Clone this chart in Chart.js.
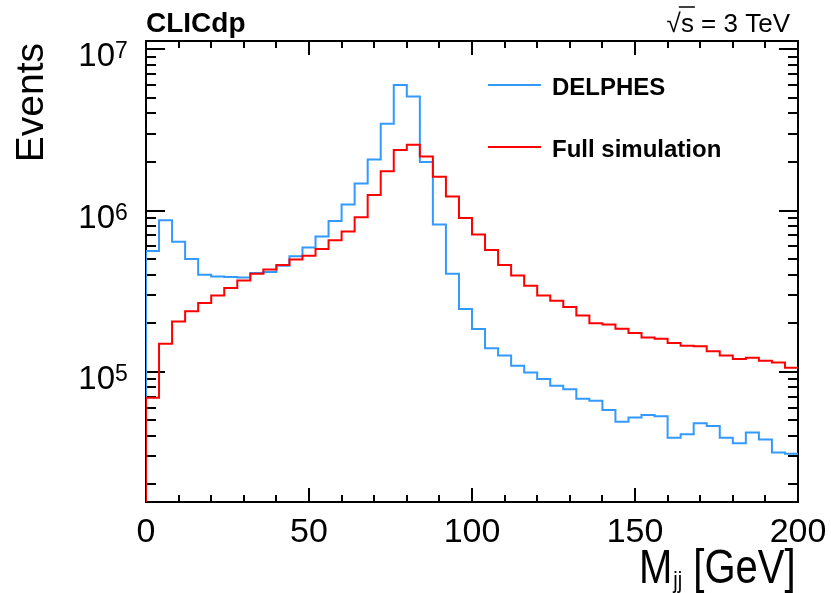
<!DOCTYPE html>
<html>
<head>
<meta charset="utf-8">
<script src="https://cdn.jsdelivr.net/npm/chart.js@4.4.1/dist/chart.umd.min.js"></script>
<style>
  html, body { margin: 0; padding: 0; background: #fff; }
  #wrap { width: 831px; height: 593px; }
</style>
</head>
<body>
<div id="wrap"><canvas id="chart" width="831" height="593"></canvas></div>
<script>
// bin edges of the M_jj histogram (GeV)
const binEdges = [0, 4, 8, 12, 16, 20, 24, 28, 32, 36, 40, 44, 48, 52, 56, 60, 64, 68, 72, 76,
    80, 84, 88, 92, 96, 100, 104, 108, 112, 116, 120, 124, 128, 132, 136, 140, 144, 148, 152, 156,
    160, 164, 168, 172, 176, 180, 184, 188, 192, 196, 200];

// events per bin
const delphes = [5.6e5, 8.7e5, 6.4e5, 5.0e5, 4.0e5, 3.9e5, 3.87e5, 3.84e5, 4.1e5, 4.16e5,
    4.55e5, 5.2e5, 5.9e5, 6.9e5, 8.6e5, 1.09e6, 1.47e6, 2.07e6, 3.45e6, 6.0e6,
    5.1e6, 2.0e6, 8.2e5, 4.06e5, 2.45e5, 1.84e5, 1.4e5, 1.26e5, 1.09e5, 9.9e4,
    9.0e4, 8.2e4, 7.8e4, 6.8e4, 6.6e4, 5.8e4, 4.9e4, 5.2e4, 5.4e4, 5.3e4,
    3.9e4, 4.1e4, 4.8e4, 4.6e4, 3.9e4, 3.6e4, 4.2e4, 3.8e4, 3.15e4, 3.1e4];

const fullSim = [6.9e4, 1.49e5, 2.05e5, 2.37e5, 2.67e5, 2.97e5, 3.31e5, 3.68e5, 4.05e5, 4.3e5,
    4.6e5, 4.97e5, 5.25e5, 5.78e5, 6.55e5, 7.4e5, 9.1e5, 1.25e6, 1.75e6, 2.37e6,
    2.56e6, 2.16e6, 1.62e6, 1.22e6, 9.0e5, 7.1e5, 5.7e5, 4.6e5, 3.95e5, 3.42e5,
    2.97e5, 2.76e5, 2.52e5, 2.23e5, 2.0e5, 1.96e5, 1.85e5, 1.74e5, 1.63e5, 1.6e5,
    1.51e5, 1.45e5, 1.44e5, 1.34e5, 1.26e5, 1.2e5, 1.22e5, 1.17e5, 1.14e5, 1.06e5];

const seriesNames = ['DELPHES', 'Full simulation'];
const seriesColors = ['#3399ff', '#ff0000'];

const xTickLabels = [0, 50, 100, 150, 200];
const xMinorStep = 10;
const yTickExponents = [5, 6, 7];

const yMin = 1.556e4;
const yMax = 1.126e7;
const histFloor = 1e4;   // below the axis, so the first edge is drawn from the bottom

const FONT = "'Liberation Sans', Arial, Helvetica, sans-serif";

// histogram -> points for a stepped line (low edge of each bin, plus the closing edge)
function toSteps(values) {
    const pts = [{ x: binEdges[0], y: histFloor }];
    values.forEach((v, i) => pts.push({ x: binEdges[i], y: v }));
    pts.push({ x: binEdges[binEdges.length - 1], y: values[values.length - 1] });
    return pts;
}

const rootStyle = {
    id: 'rootStyle',
    beforeDatasetsDraw(chart) {
        const { ctx, chartArea: a, scales: { x, y } } = chart;
        ctx.save();
        ctx.strokeStyle = '#000';
        ctx.lineWidth = 2;
        ctx.lineCap = 'butt';

        // frame
        ctx.strokeRect(a.left, a.top, a.right - a.left, a.bottom - a.top);

        ctx.beginPath();
        // x ticks (inside, bottom and top)
        for (let v = x.min; v <= x.max; v += xMinorStep) {
            const px = Math.round(x.getPixelForValue(v));
            const len = xTickLabels.includes(v) ? 14 : 7;
            ctx.moveTo(px, a.bottom);
            ctx.lineTo(px, a.bottom - len);
            ctx.moveTo(px, a.top);
            ctx.lineTo(px, a.top + len);
        }
        // y ticks (inside, left and right)
        for (let e = 4; e <= 7; e++) {
            for (let m = 1; m <= 9; m++) {
                const v = m * Math.pow(10, e);
                if (v < yMin || v > yMax) continue;
                const py = Math.round(y.getPixelForValue(v));
                const len = m === 1 ? 19 : 10;
                ctx.moveTo(a.left, py);
                ctx.lineTo(a.left + len, py);
                ctx.moveTo(a.right, py);
                ctx.lineTo(a.right - len, py);
            }
        }
        ctx.stroke();
        ctx.restore();
    },
    afterDraw(chart) {
        const { ctx, scales: { x, y } } = chart;
        ctx.save();
        ctx.fillStyle = '#000';
        ctx.strokeStyle = '#000';
        ctx.textBaseline = 'alphabetic';

        // x tick labels
        ctx.font = `34px ${FONT}`;
        ctx.textAlign = 'center';
        xTickLabels.forEach(v => {
            ctx.fillText(String(v), x.getPixelForValue(v), 542);
        });

        // y tick labels 10^n
        yTickExponents.forEach(e => {
            const py = y.getPixelForValue(Math.pow(10, e));
            ctx.font = `33px ${FONT}`;
            ctx.textAlign = 'right';
            ctx.fillText('10', 115, py + 17);
            ctx.font = `23px ${FONT}`;
            ctx.textAlign = 'left';
            ctx.fillText(String(e), 115, py + 9);
        });

        // y title
        ctx.save();
        ctx.translate(43, 43);
        ctx.rotate(-Math.PI / 2);
        ctx.font = `39px ${FONT}`;
        ctx.textAlign = 'right';
        ctx.fillText('Events', 0, 0);
        ctx.restore();

        // x title  M_jj [GeV]
        ctx.save();
        ctx.translate(0, 583);
        ctx.scale(1, 1.18);
        ctx.textAlign = 'left';
        ctx.font = `40px ${FONT}`;
        let tx = 639;
        ctx.fillText('M', tx, 0);
        tx += ctx.measureText('M').width;
        ctx.font = `20px ${FONT}`;
        ctx.fillText('jj', tx + 1, 4);
        tx += ctx.measureText('jj').width + 1;
        ctx.font = `40px ${FONT}`;
        ctx.fillText(' [GeV]', tx, 0);
        ctx.restore();

        // CLICdp label
        ctx.font = `bold 28px ${FONT}`;
        ctx.textAlign = 'left';
        ctx.fillText('CLICdp', 146, 32);

        // sqrt(s) = 3 TeV
        ctx.font = `26px ${FONT}`;
        const energy = '\u221As = 3 TeV';
        const w = ctx.measureText(energy).width;
        const sx = 790 - w;
        ctx.fillText(energy, sx, 32);
        const rootW = ctx.measureText('\u221A').width;
        const sW = ctx.measureText('\u221As').width;
        ctx.lineWidth = 1.5;
        ctx.beginPath();
        ctx.moveTo(sx + rootW - 2, 7);
        ctx.lineTo(sx + sW + 1, 7);
        ctx.stroke();

        // legend
        const legendRows = [85, 147];
        const textRows = [95, 157];
        ctx.font = `bold 24px ${FONT}`;
        ctx.lineWidth = 2;
        seriesNames.forEach((name, i) => {
            ctx.strokeStyle = seriesColors[i];
            ctx.beginPath();
            ctx.moveTo(488, legendRows[i]);
            ctx.lineTo(541, legendRows[i]);
            ctx.stroke();
            ctx.fillStyle = '#000';
            ctx.fillText(name, 552, textRows[i]);
        });

        ctx.restore();
    }
};

new Chart(document.getElementById('chart').getContext('2d'), {
    type: 'line',
    data: {
        datasets: [
            {
                label: seriesNames[0],
                data: toSteps(delphes),
                borderColor: seriesColors[0],
                order: 1
            },
            {
                label: seriesNames[1],
                data: toSteps(fullSim),
                borderColor: seriesColors[1],
                order: 0
            }
        ]
    },
    options: {
        responsive: false,
        devicePixelRatio: 1,
        animation: false,
        layout: { padding: { left: 146, right: 33, top: 41, bottom: 91 } },
        elements: {
            line: { borderWidth: 2, stepped: true, tension: 0, fill: false, borderJoinStyle: 'miter' },
            point: { radius: 0, hoverRadius: 0 }
        },
        scales: {
            x: { type: 'linear', min: 0, max: 200, display: false },
            y: { type: 'logarithmic', min: yMin, max: yMax, display: false }
        },
        plugins: {
            legend: { display: false },
            tooltip: { enabled: false }
        }
    },
    plugins: [rootStyle]
});
</script>
</body>
</html>
